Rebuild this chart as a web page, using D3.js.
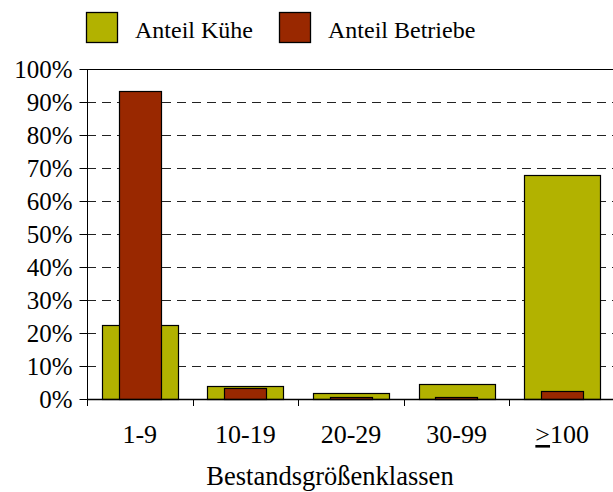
<!DOCTYPE html>
<html>
<head>
<meta charset="utf-8">
<script src="https://cdn.jsdelivr.net/npm/d3@7"></script>
<style>
  body { margin: 0; background: #fff; }
  svg { display: block; }
  svg text { font-family: "Liberation Serif", "Times New Roman", serif !important; fill: #000; }
</style>
</head>
<body>
<svg id="chart" width="613" height="492"></svg>
<script>
// Herd-size classes and the two shares per class
const categories = ["1-9", "10-19", "20-29", "30-99", ">100"];
const anteilKuehe = [0.224, 0.040, 0.017, 0.044, 0.678];
const anteilBetriebe = [0.932, 0.032, 0.007, 0.007, 0.024];
const seriesNames = ["Anteil Kühe", "Anteil Betriebe"];
const seriesColors = ["#b2b200", "#992800"];
const yTicks = [0, 0.1, 0.2, 0.3, 0.4, 0.5, 0.6, 0.7, 0.8, 0.9, 1.0];
const xTitle = "Bestandsgrößenklassen";

const FONT = '"Liberation Serif", "Times New Roman", serif';
const svg = d3.select("#chart");
const plot = { left: 87, right: 615, top: 69, bottom: 399 };

const x = d3.scaleBand().domain(categories).range([plot.left, plot.right]).padding(0);
const y = d3.scaleLinear().domain([0, 1]).range([plot.bottom, plot.top]);

// dashed gridlines behind the bars
svg.append("g").selectAll("line")
  .data(yTicks.filter(t => t > 0 && t < 1))
  .join("line")
  .attr("x1", plot.left).attr("x2", plot.right)
  .attr("y1", d => Math.round(y(d)) + 0.5).attr("y2", d => Math.round(y(d)) + 0.5)
  .attr("stroke", "#222").attr("stroke-width", 1)
  .attr("stroke-dasharray", "9,6");

// top frame line
svg.append("line")
  .attr("x1", plot.left).attr("x2", plot.right)
  .attr("y1", Math.round(y(1)) + 0.5).attr("y2", Math.round(y(1)) + 0.5)
  .attr("stroke", "#000");

// bars: wide cows share behind, narrow farms share in front
const bw = x.bandwidth();
const series = [
  { name: seriesNames[0], values: anteilKuehe, color: seriesColors[0], frac: 0.72 },
  { name: seriesNames[1], values: anteilBetriebe, color: seriesColors[1], frac: 0.40 }
];
series.forEach(s => {
  svg.append("g").selectAll("rect")
    .data(categories.map((c, i) => ({ c, v: s.values[i] })))
    .join("rect")
    .attr("x", d => Math.round(x(d.c) + (bw - bw * s.frac) / 2) + 0.5)
    .attr("width", Math.round(bw * s.frac))
    .attr("y", d => Math.round(y(d.v)) + 0.5)
    .attr("height", d => Math.max(0, Math.round(y(0)) - Math.round(y(d.v))))
    .attr("fill", s.color)
    .attr("stroke", "#000").attr("stroke-width", 1.2);
});

// y axis
const yAxis = d3.axisLeft(y).tickValues(yTicks).tickFormat(d3.format(".0%")).tickSize(8).tickPadding(7);
const gy = svg.append("g").attr("transform", `translate(${plot.left + 0.5},0)`).call(yAxis);
gy.attr("font-family", FONT).attr("font-size", 25);
gy.select(".domain").remove();
gy.selectAll("text").style("font-family", FONT).style("font-size", "25px").attr("dy", "0.34em");
svg.append("line")
  .attr("x1", plot.left + 0.5).attr("x2", plot.left + 0.5)
  .attr("y1", plot.top).attr("y2", plot.bottom + 7)
  .attr("stroke", "#000");

// x axis baseline and class-boundary ticks
svg.append("line")
  .attr("x1", plot.left).attr("x2", plot.right)
  .attr("y1", Math.round(y(0)) + 0.5).attr("y2", Math.round(y(0)) + 0.5)
  .attr("stroke", "#000").attr("stroke-width", 1.3);
svg.append("g").selectAll("line")
  .data(categories.slice(1))
  .join("line")
  .attr("x1", d => Math.round(x(d)) + 0.5).attr("x2", d => Math.round(x(d)) + 0.5)
  .attr("y1", plot.bottom).attr("y2", plot.bottom + 7)
  .attr("stroke", "#000");

// category labels
const xl = svg.append("g").selectAll("text")
  .data(categories)
  .join("text")
  .attr("x", d => x(d) + bw / 2)
  .attr("y", 443)
  .attr("text-anchor", "middle")
  .style("font-family", FONT)
  .style("font-size", "26px");
xl.each(function (d) {
  const t = d3.select(this);
  if (d.startsWith(">")) {
    t.append("tspan").style("text-decoration", "underline").text(">");
    t.append("tspan").text(d.slice(1));
  } else {
    t.text(d);
  }
});

// axis title
svg.append("text")
  .attr("x", 330).attr("y", 485)
  .attr("text-anchor", "middle")
  .style("font-family", FONT)
  .style("font-size", "26.5px")
  .text(xTitle);

// legend
const legendX = [86, 279];
series.forEach((s, i) => {
  svg.append("rect")
    .attr("x", legendX[i] + 0.5).attr("y", 12.5)
    .attr("width", 31).attr("height", 30)
    .attr("fill", s.color).attr("stroke", "#000").attr("stroke-width", 1.3);
  svg.append("text")
    .attr("x", legendX[i] + 49).attr("y", 38)
    .style("font-family", FONT)
    .style("font-size", "24px")
    .text(s.name);
});
</script>
</body>
</html>
